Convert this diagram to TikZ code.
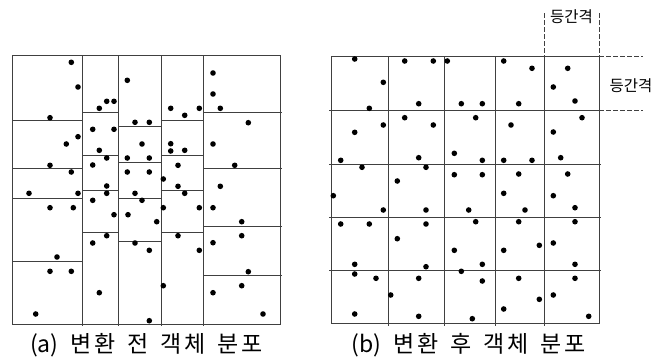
\documentclass[tikz,border=0pt]{standalone}
\usepackage{fontspec}
\newfontfamily\capkr[LetterSpace=12]{Noto Sans CJK KR}
\newfontfamily\caplat{Noto Sans CJK KR}
\newfontfamily\lblfont{Noto Sans CJK KR}
\begin{document}
\begin{tikzpicture}[x=1pt,y=-1pt,
  gridline/.style={draw=black!75, line width=1pt},
  dimline/.style={draw=black!75, line width=1pt, dash pattern=on 4.5pt off 2.5pt},
  dotmark/.style={fill=black},
  caption/.style={font=\fontsize{23}{25}\selectfont, inner sep=0pt},
  gaplabel/.style={font=\lblfont\fontsize{15.5}{16}\selectfont, inner sep=0pt}]
\useasboundingbox (0,0) rectangle (672,359);

% ---------- panel (a) ----------
\draw[gridline] (12,55.3) rectangle (280,324);
\foreach \x in {82.7,118.3,161,203.3} \draw[gridline] (\x,55.3) -- (\x,325.5);
\foreach \y in {120,168.7,198.3,261.7} \draw[gridline] (12,\y) -- (82.7,\y);
\foreach \y in {112.7,155.7,190.7,232.7} \draw[gridline] (82.7,\y) -- (118.3,\y);
\foreach \y in {126.7,162.3,198.3,241} \draw[gridline] (118.3,\y) -- (161,\y);
\foreach \y in {120,155.7,190.7,232.7} \draw[gridline] (161,\y) -- (203.3,\y);
\foreach \y in {112.7,168.7,226,275.7} \draw[gridline] (203.3,\y) -- (282,\y);

\foreach \p in {(71.3,62.3),(78,87),(106.7,101.3),(114,101.3),(99.3,108.3),(50,117.7),(127.3,80.3),(135,122.3),(149.3,122.3),(78,136.7),(66.3,144),(92.7,129.3),(114,129.3),(99.3,150.3),(106.7,158),(142,144),(127.3,158),(149.3,158),(50,165.3),(71.3,172),(92.7,165),(127.3,172),(149.3,172),(106.7,186),
(170.7,108.3),(184.7,115.3),(199.3,108.3),(213,73),(213,94),(220.3,108.3),(248.3,122.7),(170.7,143.7),(170.7,151),(184.7,150.3),(213,144),(234.7,165.3),(178,165.3),(163.3,179),(178,186.3),(220.3,186.3),
(29,193.3),(78,193.3),(106.7,193.3),(135,193.3),(50,207.7),(73.3,207.7),(92.7,200.3),(114,214.7),(128,214.7),(142,200.3),(156.7,221.7),(57,257),(50,271.3),(71.3,271.3),(35.7,314),(92.7,243),(106.7,235.7),(135,243),(149.3,250.3),(99.3,292.7),(149.3,320.7),
(184.7,193.3),(163.3,207.7),(199.3,207.7),(213,207.7),(241.7,221.7),(178,235.7),(199.3,250.3),(213,242.7),(241.7,235.7),(248.3,271.7),(163.3,285.7),(213,292.7),(241.7,285.7),(263,314)}
  \fill[dotmark] \p circle[radius=2.8pt];

% ---------- panel (b) ----------
\draw[gridline] (331,56) rectangle (599,323.7);
\foreach \x in {388.3,444.3,495,544} \draw[gridline] (\x,56) -- (\x,325.5);
\foreach \y in {110.7,164.3,217.3,270} \draw[gridline] (329,\y) -- (601,\y);

\foreach \p in {(354.7,59),(383.3,82.3),(369.3,108.3),(404.7,61),(433.3,61),(447.3,61),(418.7,103.7),(461.3,103.7),(482.3,103.7),(383.3,125),(354.7,132.3),(340.7,160.3),(404.7,117.7),(433.3,125),(418.7,157.7),(475.7,117.7),(454.3,153.3),(482.3,160.3),(362,167.3),(426,167.3),(454.3,174.7),(482.3,174.7),(397.3,181),
(333.3,195.7),(383.3,210),(426,210),(468.7,210),(340.7,224),(369.3,224),(426,224),(475.7,221.7),(397.3,238.7),(454.3,250.3),(354.7,264.3),(426,266.7),(482.3,264.3),(354.7,274),(376,278.3),(418.7,278.3),(461.3,271.3),(482.3,281),(390.7,295),(354.7,314),(418.7,316.3),(472.3,318.7),
(503.7,61),(532,68.3),(567.7,68.3),(553.3,87),(518.7,103.7),(575,101),(582,117.7),(511,125),(553.3,132),(503.7,160.3),(532,160.3),(560.7,157.7),(518.7,174),(567.7,174),
(503.7,193.3),(553.3,195.7),(525,210),(575,207.7),(518.7,221.7),(575,221.7),(503.7,250.3),(539.3,245.3),(553.3,243),(575,264.3),(518.7,278.3),(575,278.3),(553.3,295),(539.3,299.3),(503.7,309),(588.7,316.3)}
  \fill[dotmark] \p circle[radius=2.8pt];

% ---------- spacing marks ----------
\coordinate (v1top) at (544,13);
\coordinate (v1bot) at (544,56);
\coordinate (v2top) at (599,13);
\coordinate (v2bot) at (599,56);
\coordinate (h1end) at (643,56);
\coordinate (h2start) at (599,110.7);
\coordinate (h2end) at (643,110.7);
\draw[dimline] (v1top) -- (v1bot);
\draw[dimline] (v2top) -- (v2bot);
\draw[dimline] (v2bot) -- (h1end);
\draw[dimline] (h2start) -- (h2end);
\node[gaplabel] (gapTop) at (571.5,17) {등간격};
\node[gaplabel] (gapRight) at (631,86) {등간격};

% ---------- captions ----------
\node[caption] (capA) at (146.5,345) {\spaceskip=12pt\relax{\caplat (a)} {\capkr 변환} {\capkr 전} {\capkr 객체} {\capkr 분포}};
\node[caption] (capB) at (468.5,345) {\spaceskip=12pt\relax{\caplat (b)} {\capkr 변환} {\capkr 후} {\capkr 객체} {\capkr 분포}};
\end{tikzpicture}
\end{document}
